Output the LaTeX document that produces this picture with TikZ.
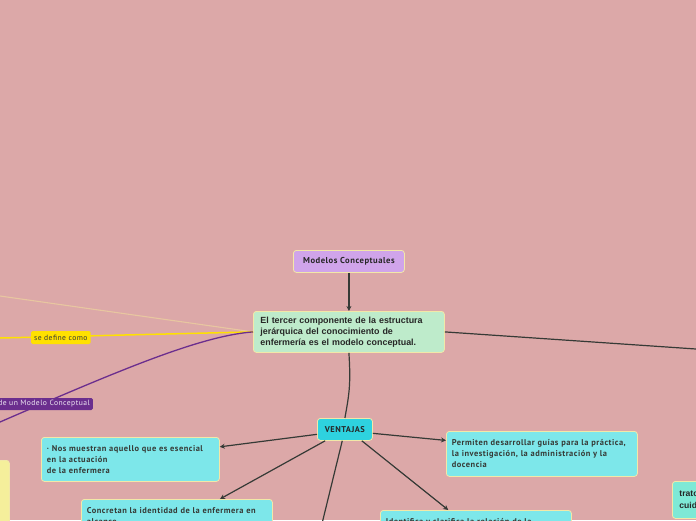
\documentclass[tikz,border=0pt]{standalone}
\usepackage{fontspec}
\setmainfont{Liberation Sans}
\newfontfamily\mapfont[LetterSpace=6]{PT Sans}
\usetikzlibrary{arrows.meta}
\definecolor{canvas}{HTML}{DCA8A8}
\definecolor{rim}{HTML}{F2E8A8}
\definecolor{ink}{HTML}{363A36}
\definecolor{lilac}{HTML}{D0A4EA}
\definecolor{mint}{HTML}{BEEBCB}
\definecolor{cyan}{HTML}{2ED2DF}
\definecolor{skyblue}{HTML}{7DE7EA}
\definecolor{aqua}{HTML}{7EE9D6}
\definecolor{sun}{HTML}{FFE100}
\definecolor{plum}{HTML}{6B2E8E}
\definecolor{sand}{HTML}{E8C6A0}
\definecolor{cream}{HTML}{F5EF9B}

\tikzset{
  topic/.style={draw=rim, line width=0.8pt, rounded corners=3pt, anchor=north west,
    inner xsep=5.5pt, inner ysep=0pt, align=left, text=ink,
    font=\mapfont\bfseries\fontsize{8.4}{11}\selectfont},
  link/.style={draw=ink, line width=1.2pt},
  tip/.style={-{Stealth[length=5pt,width=5pt]}},
  tag/.style={rounded corners=1.5pt, inner xsep=3pt, inner ysep=0pt, minimum height=13pt,
    font=\mapfont\fontsize{7.6}{9}\selectfont},
}

\begin{document}
\begin{tikzpicture}[x=1pt,y=-1pt]
        \useasboundingbox (0,0) rectangle (696,520);
        \clip (0,0) rectangle (696,520);
        \fill[canvas] (0,0) rectangle (696,520);

        % nodes
        \node[topic, fill=lilac, minimum width=111pt, minimum height=22pt, align=center,
          font=\mapfont\bfseries\fontsize{8.6}{9}\selectfont, text=black!85] (modelos) at (293,250) {Modelos Conceptuales};
        \node[topic, fill=mint, minimum width=191pt, minimum height=41pt, text width=177pt,
          font=\bfseries\fontsize{8.9}{11}\selectfont, text=black!85] (tercer) at (253,311)
          {El tercer componente de la estructura\\jerárquica del conocimiento de\\enfermería es el modelo conceptual.};
        \node[topic, fill=cyan, minimum width=55pt, minimum height=22pt, align=center,
          font=\mapfont\bfseries\fontsize{8.4}{9}\selectfont, text=black!85] (ventajas) at (317,418) {VENTAJAS};
        \node[topic, fill=skyblue, minimum width=178pt, minimum height=44pt, text width=167pt] (esencial) at (41,437)
          {· Nos muestran aquello que es esencial\\en la actuación\\de la enfermera};
        \node[topic, fill=skyblue, minimum width=191pt, minimum height=34pt, text width=180pt] (identidad) at (81,499)
          {Concretan la identidad de la enfermera en\\alcance};
        \node[topic, fill=skyblue, minimum width=191pt, minimum height=45pt, text width=180pt] (guias) at (446,431)
          {Permiten desarrollar guías para la práctica,\\la investigación, la administración y la\\docencia};
        \node[topic, fill=skyblue, minimum width=191pt, minimum height=44pt, text width=180pt] (relacion) at (380,510)
          {Identifica y clarifica la relación de la\\persona\\cuidado};
        \node[topic, fill=aqua, minimum width=80pt, minimum height=37pt, text width=66pt,
          font=\bfseries\fontsize{8.6}{12}\selectfont, text=black!85] (trato) at (672,481)
          {trato\\cuidado};
        \node[topic, fill=cream, minimum width=40pt, minimum height=70pt] (marco) at (-31,460) {};

        % free ends off the page
        \coordinate (esteFin) at (696,349);
        \coordinate (oesteAlto) at (0,296);
        \coordinate (oesteMedio) at (0,338);
        \coordinate (oesteBajo) at (0,422);
        \coordinate (surFin) at (318,540);

        % connectors
        \draw[link, tip] (modelos.south) -- (tercer.north);
        \draw[link] (tercer.east) -- (esteFin);
        \draw[sand, line width=1.1pt] (tercer.west) -- (oesteAlto);
        \draw[sun, line width=1.5pt] (tercer.west) -- (oesteMedio);
        \draw[plum, line width=1.3pt] (tercer.west) .. controls (200,336) and (120,370) .. (oesteBajo);
        \draw[link] (tercer.south) .. controls (351,385) and (349,395) .. (ventajas.north);
        \draw[link, tip] (ventajas.190) -- (esencial.8);
        \draw[link, tip] (ventajas.210) -- (identidad.22);
        \draw[link] (ventajas.257) -- (surFin);
        \draw[link, tip] (ventajas.-8) -- (guias.172);
        \draw[link, tip] (ventajas.-34) -- (relacion.141);

        % labels on the left connectors
        \node[tag, fill=sun, text=ink, anchor=west] (defineComo) at (31,337.5) {se define como};
        \node[tag, fill=plum, text=white!90!plum, anchor=east, minimum height=12pt] (definicion) at (93,404)
          {Definición de un Modelo Conceptual};
      \end{tikzpicture}
\end{document}
